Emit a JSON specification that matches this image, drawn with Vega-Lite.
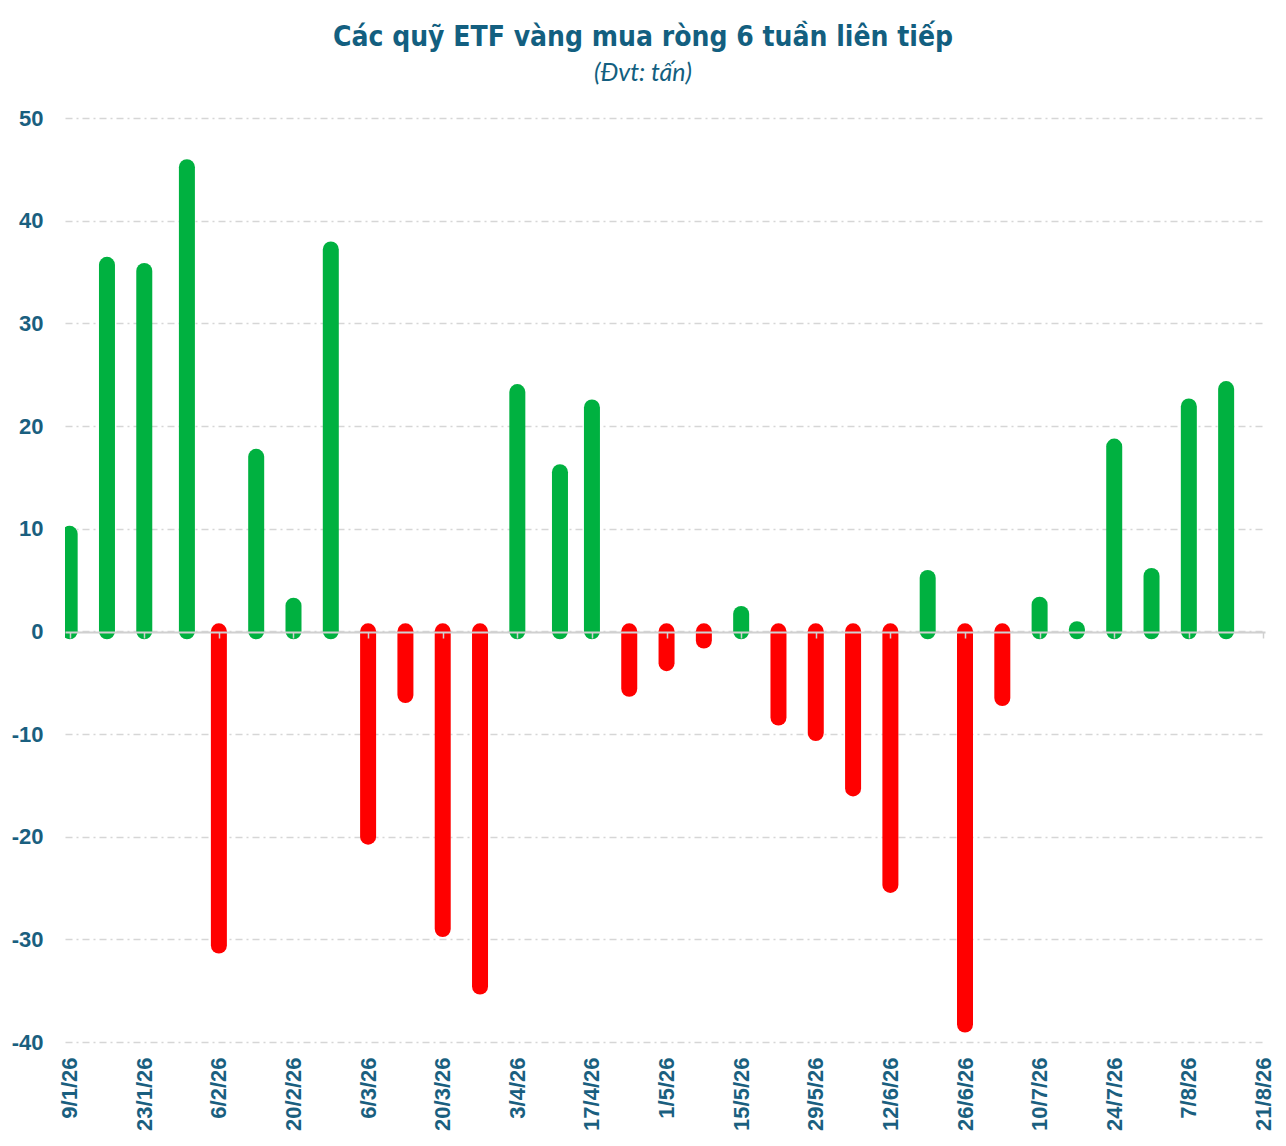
{
  "$schema": "https://vega.github.io/schema/vega-lite/v6.json",
  "width": 1200,
  "height": 924,
  "autosize": {"type": "none"},
  "padding": {"left": 65, "top": 118, "right": 21, "bottom": 104},
  "background": "white",
  "title": {
    "text": "Các quỹ ETF vàng mua ròng 6 tuần liên tiếp",
    "subtitle": "(Đvt: tấn)",
    "font": "DejaVu Sans Condensed",
    "fontSize": 28,
    "fontWeight": "bold",
    "color": "#135f80",
    "subtitleFont": "Lato",
    "subtitleFontSize": 25,
    "subtitleFontStyle": "italic",
    "subtitleColor": "#135f80",
    "subtitlePadding": 9,
    "anchor": "middle",
    "dx": -22,
    "offset": 21
  },
  "data": {
    "values": [
      {"date": "2026-01-09T00:00", "value": 9.5},
      {"date": "2026-01-16T00:00", "value": 35.7},
      {"date": "2026-01-23T00:00", "value": 35.1},
      {"date": "2026-01-31T00:00", "value": 45.2},
      {"date": "2026-02-06T00:00", "value": -30.6},
      {"date": "2026-02-13T00:00", "value": 17.0},
      {"date": "2026-02-20T00:00", "value": 2.5},
      {"date": "2026-02-27T00:00", "value": 37.2},
      {"date": "2026-03-06T00:00", "value": -20.0},
      {"date": "2026-03-13T00:00", "value": -6.2},
      {"date": "2026-03-20T00:00", "value": -29.0},
      {"date": "2026-03-27T00:00", "value": -34.6},
      {"date": "2026-04-03T00:00", "value": 23.3},
      {"date": "2026-04-11T00:00", "value": 15.5},
      {"date": "2026-04-17T00:00", "value": 21.8},
      {"date": "2026-04-24T00:00", "value": -5.6},
      {"date": "2026-05-01T00:00", "value": -3.1},
      {"date": "2026-05-08T00:00", "value": -0.9},
      {"date": "2026-05-15T00:00", "value": 1.7},
      {"date": "2026-05-22T00:00", "value": -8.4},
      {"date": "2026-05-29T00:00", "value": -9.9},
      {"date": "2026-06-05T00:00", "value": -15.3},
      {"date": "2026-06-12T00:00", "value": -24.7},
      {"date": "2026-06-19T00:00", "value": 5.2},
      {"date": "2026-06-26T00:00", "value": -38.3},
      {"date": "2026-07-03T00:00", "value": -6.5},
      {"date": "2026-07-10T00:00", "value": 2.6},
      {"date": "2026-07-17T00:00", "value": 0.2},
      {"date": "2026-07-24T00:00", "value": 18.0},
      {"date": "2026-07-31T00:00", "value": 5.4},
      {"date": "2026-08-07T00:00", "value": 21.9},
      {"date": "2026-08-14T00:00", "value": 23.6}
    ]
  },
  "config": {
    "view": {"stroke": null},
    "axis": {
      "labelFont": "Liberation Sans",
      "labelFontWeight": "bold",
      "labelColor": "#1a5f7f"
    }
  },
  "resolve": {"axis": {"x": "independent"}},
  "layer": [
    {
      "mark": {"type": "rule", "strokeWidth": 16, "strokeCap": "round", "clip": true},
      "encoding": {
        "x": {
          "field": "date",
          "type": "temporal",
          "scale": {
            "domain": [
              {"year": 2026, "month": 1, "date": 8, "hours": 3},
              {"year": 2026, "month": 8, "date": 21, "hours": 7}
            ]
          },
          "axis": {
            "title": null,
            "orient": "bottom",
            "format": "%-d/%-m/%y",
            "labelAngle": -90,
            "labelFontSize": 22,
            "labelPadding": 15,
            "domain": false,
            "ticks": false,
            "grid": false,
            "labelOverlap": false,
            "values": [
              {"year": 2026, "month": 1, "date": 9},
              {"year": 2026, "month": 1, "date": 23},
              {"year": 2026, "month": 2, "date": 6},
              {"year": 2026, "month": 2, "date": 20},
              {"year": 2026, "month": 3, "date": 6},
              {"year": 2026, "month": 3, "date": 20},
              {"year": 2026, "month": 4, "date": 3},
              {"year": 2026, "month": 4, "date": 17},
              {"year": 2026, "month": 5, "date": 1},
              {"year": 2026, "month": 5, "date": 15},
              {"year": 2026, "month": 5, "date": 29},
              {"year": 2026, "month": 6, "date": 12},
              {"year": 2026, "month": 6, "date": 26},
              {"year": 2026, "month": 7, "date": 10},
              {"year": 2026, "month": 7, "date": 24},
              {"year": 2026, "month": 8, "date": 7},
              {"year": 2026, "month": 8, "date": 21}
            ]
          }
        },
        "y": {
          "field": "value",
          "type": "quantitative",
          "scale": {"domain": [-40, 50], "nice": false},
          "axis": {
            "title": null,
            "values": [-40, -30, -20, -10, 0, 10, 20, 30, 40, 50],
            "labelExpr": "'' + datum.value",
            "labelFontSize": 22,
            "labelPadding": 22,
            "domain": false,
            "ticks": false,
            "grid": true,
            "gridColor": "#d6d6d6",
            "gridWidth": 1.5,
            "gridDash": [7, 4, 2, 4]
          }
        },
        "y2": {"datum": 0},
        "color": {
          "condition": {"test": "datum.value >= 0", "value": "#00b140"},
          "value": "#ff0000"
        }
      }
    },
    {
      "mark": {"type": "rule", "strokeWidth": 0},
      "encoding": {
        "x": {
          "field": "date",
          "type": "temporal",
          "axis": {
            "title": null,
            "orient": "bottom",
            "labels": false,
            "grid": false,
            "offset": -410,
            "domain": true,
            "domainColor": "#d0d0d0",
            "domainWidth": 2,
            "ticks": true,
            "tickColor": "#d0d0d0",
            "tickWidth": 1.5,
            "tickSize": 6,
            "zindex": 1,
            "values": [
              {"year": 2026, "month": 1, "date": 9},
              {"year": 2026, "month": 1, "date": 23},
              {"year": 2026, "month": 2, "date": 6},
              {"year": 2026, "month": 2, "date": 20},
              {"year": 2026, "month": 3, "date": 6},
              {"year": 2026, "month": 3, "date": 20},
              {"year": 2026, "month": 4, "date": 3},
              {"year": 2026, "month": 4, "date": 17},
              {"year": 2026, "month": 5, "date": 1},
              {"year": 2026, "month": 5, "date": 15},
              {"year": 2026, "month": 5, "date": 29},
              {"year": 2026, "month": 6, "date": 12},
              {"year": 2026, "month": 6, "date": 26},
              {"year": 2026, "month": 7, "date": 10},
              {"year": 2026, "month": 7, "date": 24},
              {"year": 2026, "month": 8, "date": 7},
              {"year": 2026, "month": 8, "date": 21}
            ]
          }
        },
        "y": {"datum": 0}
      }
    }
  ]
}
